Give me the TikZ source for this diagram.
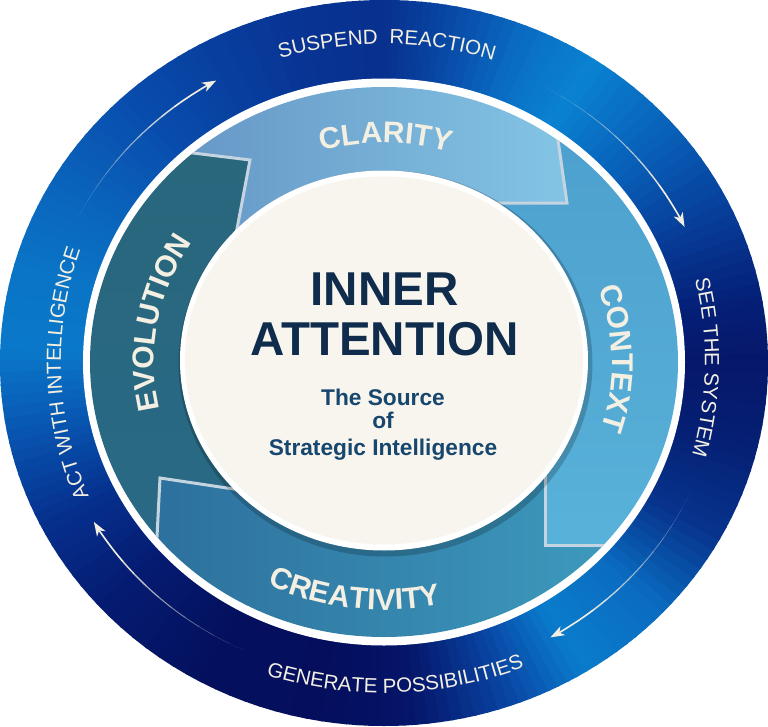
\documentclass[tikz,border=0pt]{standalone}
\usepackage{fontspec}
\setmainfont{Liberation Sans}
\usetikzlibrary{decorations.text,arrows.meta}
\definecolor{cream}{HTML}{F3EFE2}
\definecolor{titleblue}{HTML}{0F2C4C}
\definecolor{subblue}{HTML}{17466E}
\definecolor{diskcream}{HTML}{F7F5EE}
\definecolor{diskedge}{HTML}{E4E0D6}
\definecolor{headline}{HTML}{C4D4E0}
\definecolor{claL}{HTML}{5F8CBE}
\definecolor{claR}{HTML}{8CD2EE}
\definecolor{conTop}{HTML}{4C9ECC}
\definecolor{conMid}{HTML}{3A86B6}
\definecolor{conBot}{HTML}{5AB6DC}
\definecolor{creL}{HTML}{2A6A98}
\definecolor{creR}{HTML}{40A0C2}
\definecolor{evoTop}{HTML}{28667A}
\definecolor{evoMid}{HTML}{358A98}
\definecolor{evoBot}{HTML}{2A6A88}
\pgfdeclareradialshading{diskshade}{\pgfpoint{0bp}{0bp}}{color(0bp)=(diskcream); color(42bp)=(diskcream); color(50bp)=(diskedge)}
\newcommand\ringfont{\fontsize{30}{36}\selectfont\bfseries}
\newcommand\bandfont{\fontsize{20.5}{24}\selectfont}
\newcommand\ringlabel[5]{%
  \path[decorate,decoration={text along path,text={|\ringfont|#1},text align=center,text color=cream}]
    ({#2*cos(#4)},{#3*sin(#4)}) arc[start angle=#4,end angle=#5,x radius=#2,y radius=#3];
}
\newcommand\bandlabel[5]{%
  \path[decorate,decoration={text along path,text={|\bandfont|#1},text align=center,text color=cream}]
    ({#2*cos(#4)},{#3*sin(#4)}) arc[start angle=#4,end angle=#5,x radius=#2,y radius=#3];
}
\newcommand\bandarrow[4]{%
  \foreach \i in {0,...,9}{
    \pgfmathsetmacro\ta{#3+(#4-#3)*\i/12}
    \pgfmathsetmacro\tb{#3+(#4-#3)*(\i+1)/12}
    \pgfmathsetmacro\op{0.1+0.9*\i/9}
    \pgfmathsetmacro\lw{0.4+1.2*\i/9}
    \draw[cream,draw opacity=\op,line width=\lw pt]
      ({#1*cos(\ta)},{#2*sin(\ta)}) arc[start angle=\ta,end angle=\tb,x radius=#1,y radius=#2];
  }
  \pgfmathsetmacro\ta{#3+(#4-#3)*10/12}
  \draw[cream,line width=1.6pt,-{Stealth[length=14pt,width=10pt,inset=4pt]}]
    ({#1*cos(\ta)},{#2*sin(\ta)}) arc[start angle=\ta,end angle=#4,x radius=#1,y radius=#2];
}
\begin{document}
\begin{tikzpicture}[x=1pt,y=1pt,
  title/.style={font=\fontsize{47.5}{50}\selectfont\bfseries,text=titleblue,inner sep=0pt,anchor=base},
  sub/.style={font=\fontsize{22.7}{26}\selectfont\bfseries,text=subblue,inner sep=0pt,anchor=base},
  headedge/.style={draw=headline,line width=3pt,line join=miter}]
\fill[white] (-384,-364) rectangle (384,362);
\useasboundingbox (-384,-364) rectangle (384,362);

% outer band with angular colour sweep
\begin{scope}
\clip (0,-1) ellipse [x radius=384,y radius=363];
\foreach \a/\b/\ca/\cb in {0/10/06176A/052078,10/25/052078/07409C,25/40/07409C/0862BA,40/55/0862BA/0A82D2,55/65/0A82D2/0A70C6,65/80/0A70C6/0846A4,80/90/0846A4/08308E,90/105/08308E/083494,105/120/083494/0840A0,120/135/0840A0/084EAE,135/150/084EAE/0A62BA,150/165/0A62BA/0A74C6,165/178/0A74C6/0A78CA,178/192/0A78CA/0852AE,192/205/0852AE/06308E,205/220/06308E/051C72,220/240/051C72/04105E,240/260/04105E/040E5C,260/275/040E5C/05166A,275/290/05166A/0844A2,290/303/0844A2/0A7CCC,303/318/0A7CCC/0A6CC0,318/332/0A6CC0/07348E,332/347/07348E/052074,347/360/052074/06176A}{
  \definecolor{cA}{HTML}{\ca}\definecolor{cB}{HTML}{\cb}
  \foreach \k in {0,...,7}{
    \pgfmathsetmacro\sA{\a+(\b-\a)*\k/8}
    \pgfmathsetmacro\sB{\a+(\b-\a)*(\k+1)/8+0.4}
    \pgfmathtruncatemacro\p{100*(\k+0.5)/8}
    \fill[cB!\p!cA] (0,0) -- (\sA:900) -- (\sB:900) -- cycle;
  }
}
\end{scope}

% white gap
\fill[white] (0,0) ellipse [x radius=301,y radius=283.5];

% arrow heads geometry of the four pieces
\coordinate (Ccla) at (183,159);  \coordinate (Fcla) at (156,348);  \coordinate (Gcla) at (12,159);
\coordinate (Ccon) at (161,-183); \coordinate (Fcon) at (361,-183); \coordinate (Gcon) at (161,17);
\coordinate (Ccre) at (-224,-116);\coordinate (Fcre) at (-233,-293);\coordinate (Gcre) at (-56.5,-141);
\coordinate (Cevo) at (-134,202); \coordinate (Fevo) at (-305,223); \coordinate (Gevo) at (-159,69.5);
\coordinate (Z) at (0,0);

\begin{scope}
\clip (0,0) ellipse [x radius=294,y radius=275];
\begin{scope}
  \clip (Fevo) -- (Cevo) -- (Gevo) -- (Z) -- (Gcla) -- (Ccla) -- (Fcla) -- (0,600) -- cycle;
  \shade[left color=claL,right color=claR] (-300,-280) rectangle (300,280);
\end{scope}
\begin{scope}
  \clip (Fcla) -- (Ccla) -- (Gcla) -- (Z) -- (Gcon) -- (Ccon) -- (Fcon) -- (600,0) -- cycle;
  \shade[top color=conTop,middle color=conMid,bottom color=conBot] (-300,-280) rectangle (300,280);
\end{scope}
\begin{scope}
  \clip (Fcon) -- (Ccon) -- (Gcon) -- (Z) -- (Gcre) -- (Ccre) -- (Fcre) -- (0,-600) -- cycle;
  \shade[left color=creL,right color=creR] (-300,-280) rectangle (300,280);
\end{scope}
\begin{scope}
  \clip (Fcre) -- (Ccre) -- (Gcre) -- (Z) -- (Gevo) -- (Cevo) -- (Fevo) -- (-600,0) -- cycle;
  \shade[top color=evoTop,middle color=evoMid,bottom color=evoBot] (-300,-280) rectangle (300,280);
\end{scope}
\draw[headedge] (Fcla) -- (Ccla) -- (Gcla);
\draw[headedge] (Fcon) -- (Ccon) -- (Gcon);
\draw[headedge] (Fcre) -- (Ccre) -- (Gcre);
\draw[headedge] (Fevo) -- (Cevo) -- (Gevo);
\end{scope}

% centre disk
\fill[black,opacity=0.2] (1.5,-1.5) ellipse [x radius=207,y radius=193];
\fill[white] (0,1.5) ellipse [x radius=204,y radius=190];
\shade[shading=diskshade] (0,1.5) ellipse [x radius=199,y radius=184];

% ring labels
\ringlabel{CLARITY}{234}{219}{134.5}{44.5}
\ringlabel{CONTEXT}{228}{213}{46}{-44}
\ringlabel{CREATIVITY}{265}{248}{-145}{-49}
\ringlabel{EVOLUTION}{230}{216}{214.7}{124.7}

% band labels
\bandlabel{SUSPEND {~}REACTION}{348}{318}{129.5}{49.5}
\bandlabel{SEE THE SYSTEM}{321}{330}{44}{-46}
\bandlabel{GENERATE POSSIBILITIES}{363}{331}{-138}{-38}
\bandlabel{ACT WITH INTELLIGENCE}{323}{330}{232}{132}

% band arrows
\bandarrow{342}{323}{153}{119.4}
\bandarrow{333}{314}{61}{25.5}
\bandarrow{336}{317}{-24.8}{-60.3}
\bandarrow{336}{317}{-114.6}{-149.7}

% centre text
\node[title] (inner) at (0.5,57) {INNER};
\node[title] (attention) at (0.5,7) {ATTENTION};
\node[sub] (source) at (-1,-43) {The Source};
\node[sub] (of) at (-1,-66) {of};
\node[sub] (strategic) at (-1,-93) {Strategic Intelligence};
\end{tikzpicture}
\end{document}
